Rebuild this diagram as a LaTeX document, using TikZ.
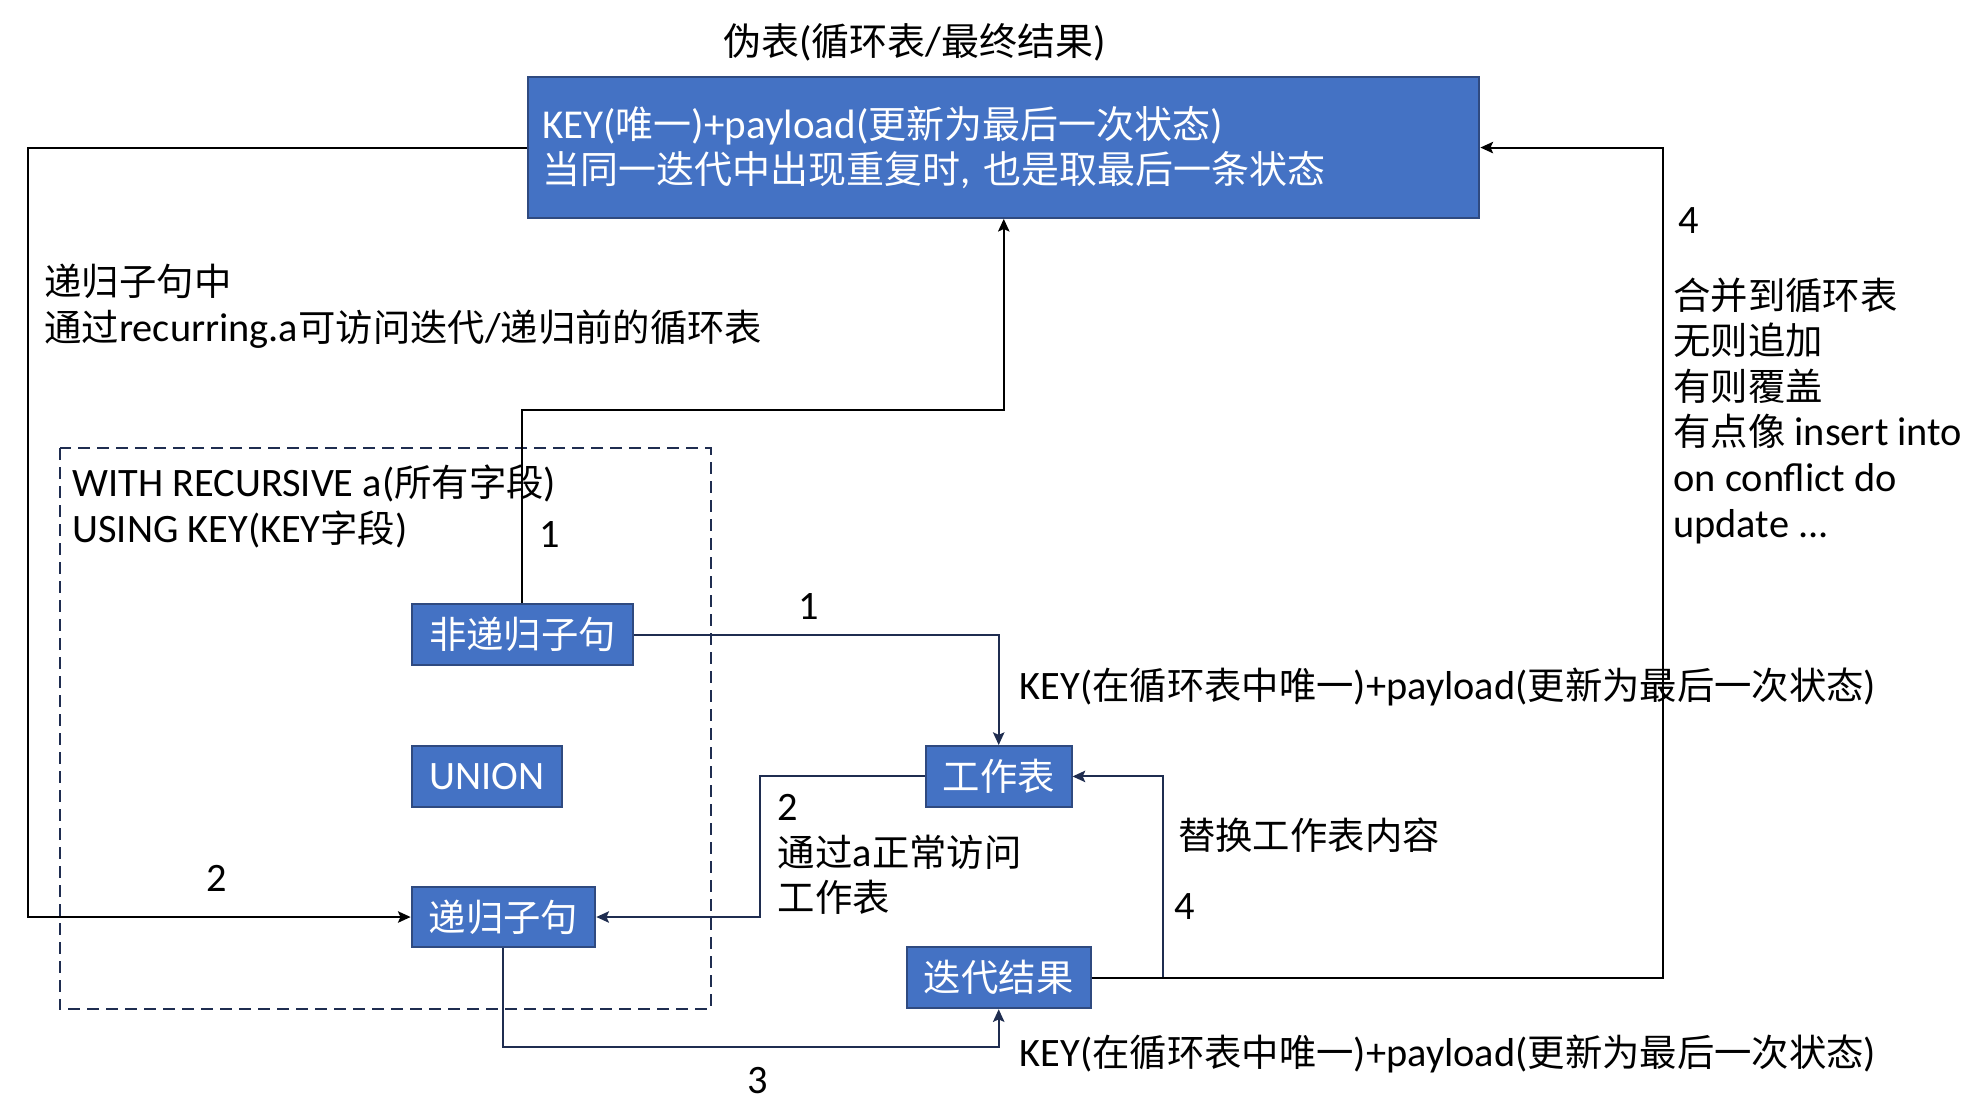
\documentclass[tikz,border=0pt]{standalone}
\usepackage{fontspec}
\setmainfont[Scale=1.08]{Carlito}
\newfontfamily\cjkfont{Noto Sans CJK SC}
\usetikzlibrary{arrows.meta}

% Han characters are set in the CJK family, everything else in the main family
\XeTeXinterchartokenstate=1
\newXeTeXintercharclass\hanclass
\newcount\hancode
\hancode="4E00
\loop
  \XeTeXcharclass\hancode=\hanclass
  \ifnum\hancode<"9FFF
  \advance\hancode by 1
\repeat
\XeTeXinterchartoks 0 \hanclass = {\cjkfont}
\XeTeXinterchartoks 4095 \hanclass = {\cjkfont}
\XeTeXinterchartoks \hanclass 0 = {\rmfamily}
\XeTeXinterchartoks \hanclass 4095 = {\rmfamily}

\definecolor{boxblue}{HTML}{4472C4}
\definecolor{boxedge}{HTML}{2F4A80}
\definecolor{navy}{HTML}{1F2D50}

\begin{document}
\begin{tikzpicture}[x=1pt,y=-1pt,
  txt/.style={font=\fontsize{29.5}{36}\selectfont, inner sep=0pt, anchor=base west},
  stepbox/.style={draw=boxedge, line width=1.6pt, fill=boxblue, text=white,
    font=\fontsize{29.5}{36}\selectfont, inner sep=0pt, minimum height=48pt},
  tip/.style={-{Stealth[length=10pt,width=9pt,inset=2pt]}},
  blk/.style={draw=black, line width=1.6pt, tip},
  nav/.style={draw=navy, line width=1.6pt, tip},
  frame/.style={draw=navy, line width=1.6pt, dash pattern=on 9.5pt off 5.5pt}
]
\useasboundingbox (0,0) rectangle (1568,876);

% title and the pseudo table
\node[txt, font=\fontsize{30}{36}\selectfont, anchor=base] (title) at (722,44) {伪表(循环表/最终结果)};
\node[stepbox, minimum width=751pt, minimum height=111pt, text width=729pt, align=left,
      font=\fontsize{30}{36}\selectfont] (top) at (792.5,116.5)
  {KEY(唯一)+payload(更新为最后一次状态)\\当同一迭代中出现重复时, 也是取最后一条状态};

% note about recurring.a
\node[txt] (note) at (35,233) {\vtop{\baselineskip=37pt
  \hbox{递归子句中}\hbox{通过recurring.a可访问迭代/递归前的循环表}}};

% the WITH RECURSIVE statement
\draw[frame] (47,354) rectangle (561,797);
\node[txt] (with) at (57,392) {\vtop{\baselineskip=36pt
  \hbox{WITH RECURSIVE a(所有字段)}\hbox{USING KEY(KEY字段)}}};
\node[stepbox, minimum width=175pt] (nonrec) at (412.5,501) {非递归子句};
\node[stepbox, minimum width=119pt] (union) at (384.5,613) {UNION};
\node[stepbox, minimum width=145pt] (rec) at (397.5,724) {递归子句};

% working table and iteration result
\node[stepbox, minimum width=115pt] (work) at (788.5,613) {工作表};
\node[stepbox, minimum width=145pt] (iter) at (788.5,772) {迭代结果};

% bend points
\coordinate (k1) at (600,324);
\coordinate (lx) at (22,400);
\coordinate (k2) at (600,650);
\coordinate (k3) at (600,827);
\coordinate (k4) at (918,700);
\coordinate (k5) at (1313,400);

% connectors
\draw[blk] (nonrec.north) |- (k1) -| (top.south);
\draw[nav] (nonrec.east) -| (work.north);
\draw[blk] (top.west) -| (lx) |- (rec.west);
\draw[nav] (work.west) -| (k2) |- (rec.east);
\draw[nav] (rec.south) |- (k3) -| (iter.south);
\draw[nav] (iter.east) -| (k4) |- (work.east);
\draw[blk] (iter.east) -| (k5) |- (top.east);

% step numbers and descriptions
\node[txt] (n1a) at (426,432) {1};
\node[txt] (n1b) at (630,489) {1};
\node[txt] (n2a) at (163,704) {2};
\node[txt] (lab2) at (614,648) {\vtop{\baselineskip=36pt
  \hbox{2}\hbox{通过a正常访问}\hbox{工作表}}};
\node[txt] (n3) at (590,863) {3};
\node[txt] (n4a) at (927,726) {4};
\node[txt] (lab4a) at (930,671) {替换工作表内容};
\node[txt] (n4b) at (1325,184) {4};
\node[txt] (lab4b) at (1321,244) {\vtop{\baselineskip=36pt
  \hbox{合并到循环表}\hbox{无则追加}\hbox{有则覆盖}\hbox{有点像 insert into}%
  \hbox{on conflict do}\hbox{update ...}}};
\node[txt] (key1) at (805,552) {KEY(在循环表中唯一)+payload(更新为最后一次状态)};
\node[txt] (key2) at (805,842) {KEY(在循环表中唯一)+payload(更新为最后一次状态)};
\end{tikzpicture}
\end{document}
